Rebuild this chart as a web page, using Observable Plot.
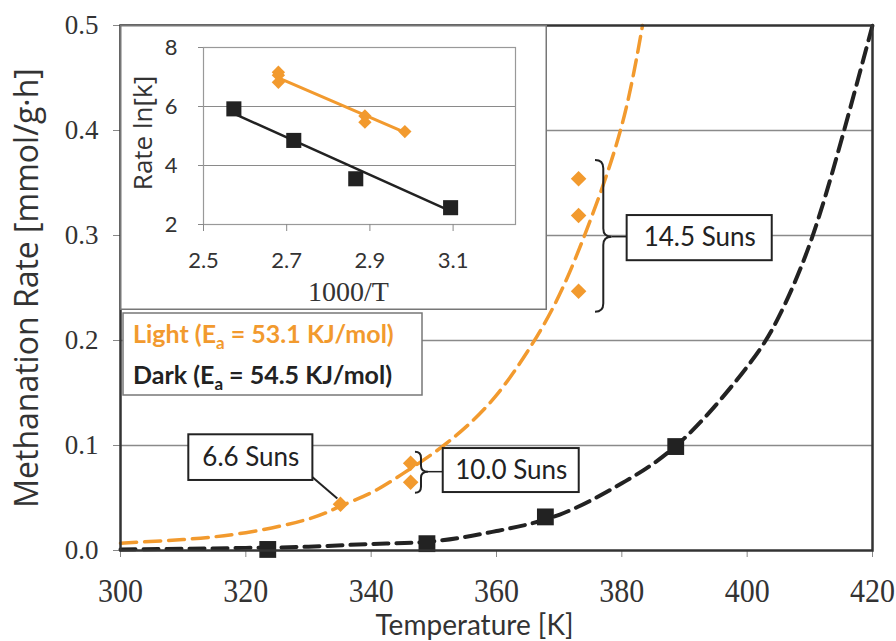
<!DOCTYPE html>
<html><head><meta charset="utf-8">
<script src="https://cdn.jsdelivr.net/npm/d3@7"></script>
<script src="https://cdn.jsdelivr.net/npm/@observablehq/plot@0.6"></script>
<style>
body{margin:0;background:#fff;}
#chart{position:relative;width:896px;height:641px;}
</style></head><body><div id="chart"></div>
<script>
// ---------- data ----------
const xTicks = [300, 320, 340, 360, 380, 400, 420];
const yTicks = [0, 0.1, 0.2, 0.3, 0.4, 0.5];
const gridValues = [0.1, 0.2, 0.3, 0.4];

const darkT = [323.5, 348.9, 367.8, 388.6];
const darkRate = [0.001, 0.0065, 0.032, 0.099];
const lightT = [335.1, 346.3, 346.3, 373.1, 373.1, 373.1];
const lightRate = [0.044, 0.083, 0.065, 0.354, 0.319, 0.247];

// dashed fitted curves
const lightFitT = [300, 310, 320, 330, 335, 340, 345, 350, 355, 360, 365, 370, 375, 380, 383.3];
const lightFitRate = [0.007, 0.0105, 0.017, 0.030, 0.042, 0.055, 0.073, 0.093, 0.117, 0.148, 0.19, 0.243, 0.315, 0.405, 0.5];
const darkFitT = [300, 310, 320, 330, 340, 350, 360, 370, 380, 390, 400, 405, 410, 415, 420];
const darkFitRate = [0.001, 0.0016, 0.0025, 0.0036, 0.0062, 0.0088, 0.0185, 0.034, 0.064, 0.107, 0.175, 0.222, 0.292, 0.39, 0.5];

// inset (Arrhenius plot)
const insetXTicks = [2.5, 2.7, 2.9, 3.1];
const insetYTicks = [2, 4, 6, 8];
const insetGrid = [4, 6, 8];
const darkInvT = [2.573, 2.717, 2.866, 3.094];
const darkLnK = [5.92, 4.85, 3.55, 2.57];
const lightInvT = [2.68, 2.68, 2.68, 2.888, 2.888, 2.984];
const lightLnK = [7.16, 7.06, 6.82, 5.68, 5.47, 5.15];
const darkLineInvT = [2.573, 3.094];
const darkLineLnK = [5.76, 2.45];
const lightLineInvT = [2.68, 2.984];
const lightLineLnK = [6.97, 5.12];

// labels
const sunLabels = ["6.6 Suns", "10.0 Suns", "14.5 Suns"];
const seriesNames = ["Light", "Dark"];
const seriesEa = [53.1, 54.5];

// ---------- layout (annotation placement in data units) ----------
const boxX1 = [310.9, 351.5, 380.85];
const boxX2 = [330.7, 373.2, 404.0];
const boxY1 = [0.0667, 0.0552, 0.276];
const boxY2 = [0.1102, 0.0971, 0.319];
const leader = {x1: 330.6, y1: 0.070, x2: 334.6, y2: 0.0495};
const braces = [
  {x0: 347.07, x1: 348.03, x2: 349.15, yt: 0.0936, ym: 0.0746, yb: 0.0546, xb: 351.5},
  {x0: 375.8, x1: 377.12, x2: 378.45, yt: 0.3714, ym: 0.2984, yb: 0.2270, xb: 380.85}
];

const ORANGE = "#F29A2E";
const DARK = "#222";
const SANS = "Lato, 'Open Sans', sans-serif";
const WIDE = "'Open Sans', Lato, sans-serif";
const SERIF = "'Liberation Serif', 'Times New Roman', serif";

const dark = darkT.map((t, i) => ({t, r: darkRate[i]}));
const light = lightT.map((t, i) => ({t, r: lightRate[i]}));
const darkFit = darkFitT.map((t, i) => ({t, r: darkFitRate[i]}));
const lightFit = lightFitT.map((t, i) => ({t, r: lightFitRate[i]}));
const boxes = sunLabels.map((s, i) => ({s, x1: boxX1[i], x2: boxX2[i], y1: boxY1[i], y2: boxY2[i]}));

const chart = Plot.plot({
  width: 896, height: 641,
  marginLeft: 120, marginRight: 24, marginTop: 25, marginBottom: 91,
  x: {domain: [300, 420]},
  y: {domain: [0, 0.5]},
  style: {background: "white", color: DARK},
  marks: [
    Plot.gridY(gridValues, {stroke: "#8a8a8a", strokeOpacity: 1, strokeWidth: 1.5}),
    Plot.axisY(yTicks, {tickSize: 7, tickPadding: 15, tickFormat: d3.format(".1f"), fontFamily: SERIF, fontSize: 27, stroke: "#888", fill: "#333", label: null}),
    Plot.axisX(xTicks, {tickSize: 7, tickPadding: 22, tickFormat: d => String(d), fontFamily: SERIF, fontSize: 30, stroke: "#888", fill: "#333", label: null}),
    Plot.text(["Temperature [K]"], {frameAnchor: "bottom", textAnchor: "middle", lineAnchor: "middle", dx: -22, dy: 76, fontFamily: SANS, fontSize: 28, fill: "#333"}),
    Plot.text(["Methanation Rate [mmol/g·h]"], {frameAnchor: "left", textAnchor: "middle", lineAnchor: "middle", rotate: -90, dx: -93, fontFamily: WIDE, fontSize: 32, fill: "#333"}),
    Plot.line(lightFit, {x: "t", y: "r", stroke: ORANGE, strokeWidth: 3.5, strokeDasharray: "16,8", curve: "natural"}),
    Plot.line(darkFit, {x: "t", y: "r", stroke: DARK, strokeWidth: 4, strokeDasharray: "15,8", curve: "natural"}),
    Plot.link([leader], {x1: "x1", y1: "y1", x2: "x2", y2: "y2", stroke: DARK, strokeWidth: 2}),
    Plot.dot(light, {x: "t", y: "r", symbol: "diamond2", r: 7, fill: ORANGE}),
    Plot.dot(dark, {x: "t", y: "r", symbol: "square", r: 9.5, fill: DARK}),
    Plot.rect(boxes, {x1: "x1", x2: "x2", y1: "y1", y2: "y2", fill: "white", stroke: DARK, strokeWidth: 2}),
    Plot.text(boxes, {x: d => (d.x1 + d.x2) / 2, y: d => (d.y1 + d.y2) / 2, text: "s", fontFamily: SANS, fontSize: 26, fill: "#222"}),
    Plot.frame({stroke: "#333", strokeWidth: 2.5})
  ]
});

const inset = Plot.plot({
  width: 427, height: 285,
  marginLeft: 83, marginRight: 32, marginTop: 22, marginBottom: 86,
  x: {domain: [2.5, 3.25]},
  y: {domain: [2, 8]},
  style: {color: DARK},
  marks: [
    Plot.gridY(insetGrid, {stroke: "#8a8a8a", strokeOpacity: 1, strokeWidth: 1.2}),
    Plot.frame({stroke: "#999", strokeWidth: 1.2}),
    Plot.axisY(insetYTicks, {tickSize: 5, tickPadding: 21, fontFamily: SANS, fontSize: 22, stroke: "#888", fill: "#333", label: null}),
    Plot.axisX(insetXTicks, {tickSize: 7, tickPadding: 21, tickFormat: d3.format(".1f"), fontFamily: SANS, fontSize: 22, stroke: "#888", fill: "#333", label: null}),
    Plot.text(["Rate ln[k]"], {frameAnchor: "left", textAnchor: "middle", lineAnchor: "middle", rotate: -90, dx: -60, dy: -3, fontFamily: WIDE, fontSize: 26, fill: "#333"}),
    Plot.text(["1000/T"], {frameAnchor: "bottom", textAnchor: "middle", lineAnchor: "middle", dx: -11, dy: 68, fontFamily: SERIF, fontSize: 28, fill: "#333", ariaLabel: "invT"}),
    Plot.line(darkLineInvT.map((x, i) => ({x, y: darkLineLnK[i]})), {x: "x", y: "y", stroke: DARK, strokeWidth: 2.5}),
    Plot.line(lightLineInvT.map((x, i) => ({x, y: lightLineLnK[i]})), {x: "x", y: "y", stroke: ORANGE, strokeWidth: 3}),
    Plot.dot(lightInvT.map((x, i) => ({x, y: lightLnK[i]})), {x: "x", y: "y", symbol: "diamond2", r: 6, fill: ORANGE}),
    Plot.dot(darkInvT.map((x, i) => ({x, y: darkLnK[i]})), {x: "x", y: "y", symbol: "square", r: 8.5, fill: DARK})
  ]
});

document.getElementById("chart").appendChild(chart);

// white background + border for inset, nested in main svg
const ins = d3.select(inset);
ins.insert("rect", ":first-child").attr("x", 0.75).attr("y", 0.75).attr("width", 425.5).attr("height", 283.5)
  .attr("fill", "white").attr("stroke", "#777").attr("stroke-width", 1.5);
inset.style.width = "427px";
inset.style.height = "285px";
inset.style.maxWidth = "none";
inset.setAttribute("x", 120);
inset.setAttribute("y", 25);
const frameG = chart.querySelector('g[aria-label="frame"]');
if (frameG) chart.insertBefore(inset, frameG); else chart.appendChild(inset);

const xs = chart.scale("x"), ys = chart.scale("y");
const svg = d3.select(chart);

// braces
const bg = svg.insert("g", 'g[aria-label="frame"]');
braces.forEach(b => {
  const X0 = xs.apply(b.x0), X1 = xs.apply(b.x1), X2 = xs.apply(b.x2);
  const Yt = ys.apply(b.yt), Ym = ys.apply(b.ym), Yb = ys.apply(b.yb);
  const r = X1 - X0;
  const p = `M${X0},${Yt} Q${X1},${Yt} ${X1},${Yt + r} L${X1},${Ym - r} Q${X1},${Ym} ${X2},${Ym} Q${X1},${Ym} ${X1},${Ym + r} L${X1},${Yb - r} Q${X1},${Yb} ${X0},${Yb}`;
  bg.append("path").attr("d", p).attr("fill", "none").attr("stroke", DARK).attr("stroke-width", 2);
  bg.append("line").attr("x1", X2).attr("x2", xs.apply(b.xb)).attr("y1", Ym).attr("y2", Ym).attr("stroke", DARK).attr("stroke-width", 1.5);
});

// legend box (below the inset)
const lg = svg.insert("g", 'g[aria-label="frame"]');
lg.append("rect").attr("x", 123).attr("y", 313).attr("width", 299).attr("height", 82)
  .attr("fill", "white").attr("stroke", "#777").attr("stroke-width", 1.5);
const colors = [ORANGE, "#222"];
seriesNames.forEach((n, i) => {
  const t = lg.append("text").attr("x", 133).attr("y", 343 + i * 41).attr("text-anchor", "start")
    .attr("font-family", SANS).attr("font-weight", "bold").attr("font-size", 25).attr("fill", colors[i]);
  t.append("tspan").text(`${n} (E`);
  t.append("tspan").attr("dy", 6).attr("font-size", 17).text("a");
  t.append("tspan").attr("dy", -6).text(` = ${seriesEa[i].toFixed(1)} KJ/mol)`);
});

// serif labels in the reference are vertically stretched
function stretch(nodes, sy) {
  nodes.forEach(t => {
    const b = t.getBBox();
    const cx = b.x + b.width / 2, cy = b.y + b.height / 2;
    const tr = t.getAttribute("transform") || "";
    t.setAttribute("transform", `${tr} translate(${cx},${cy}) scale(1,${sy}) translate(${-cx},${-cy})`);
  });
}
stretch(Array.from(chart.querySelectorAll(':scope > g[aria-label="x-axis tick label"] text')), 1.13);
stretch(Array.from(inset.querySelectorAll('g[aria-label="invT"] text')), 1.15);
</script></body></html>
